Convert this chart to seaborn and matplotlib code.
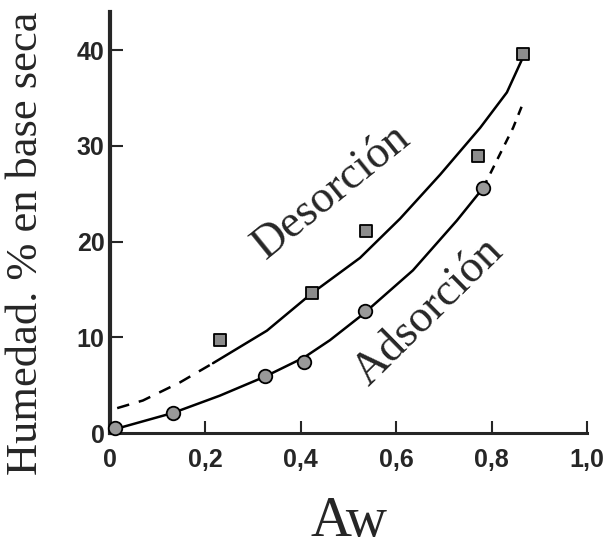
import matplotlib
matplotlib.use('Agg')
import matplotlib.pyplot as plt
import seaborn as sns

sns.set_style('ticks')
plt.rcParams['font.family'] = ['Liberation Serif', 'DejaVu Serif']

# points
des_aw = [0.231, 0.423, 0.537, 0.771, 0.866]
des_hum = [9.7, 14.6, 21.1, 29.0, 39.6]
ads_aw = [0.010, 0.132, 0.325, 0.407, 0.535, 0.782]
ads_hum = [0.5, 2.1, 6.0, 7.4, 12.7, 25.6]

# drawn curves (solid and dashed stretches)
des_dash_aw = [0.015, 0.069, 0.147, 0.216]
des_dash_hum = [2.6, 3.4, 5.3, 7.3]
des_line_aw = [0.216, 0.329, 0.423, 0.524, 0.608, 0.692, 0.776, 0.832, 0.866]
des_line_hum = [7.3, 10.7, 14.6, 18.3, 22.4, 27.0, 31.9, 35.6, 39.3]
ads_line_aw = [0.010, 0.132, 0.230, 0.325, 0.407, 0.461, 0.530, 0.635, 0.727, 0.782]
ads_line_hum = [0.4, 2.1, 3.9, 5.9, 7.9, 9.7, 12.4, 17.0, 22.2, 25.6]
ads_dash_aw = [0.782, 0.803, 0.845, 0.866]
ads_dash_hum = [25.6, 27.7, 31.9, 34.5]

xticks = [0, 0.2, 0.4, 0.6, 0.8, 1.0]
xticklabels = ['0', '0,2', '0,4', '0,6', '0,8', '1,0']
yticks = [0, 10, 20, 30, 40]

fig = plt.figure(figsize=(6.16, 5.5), dpi=100)
ax = fig.add_axes([0.1786, 0.2127, 0.7744, 0.7655])

sns.lineplot(x=des_line_aw, y=des_line_hum, sort=False, estimator=None,
             color='black', lw=1.8, ax=ax)
sns.lineplot(x=des_dash_aw, y=des_dash_hum, sort=False, estimator=None,
             color='black', lw=1.8, linestyle=(0, (5, 4)), ax=ax)
sns.lineplot(x=ads_line_aw, y=ads_line_hum, sort=False, estimator=None,
             color='black', lw=1.8, ax=ax)
sns.lineplot(x=ads_dash_aw, y=ads_dash_hum, sort=False, estimator=None,
             color='black', lw=1.8, linestyle=(0, (3.5, 3)), ax=ax)

sns.scatterplot(x=des_aw, y=des_hum, marker='s', s=80, color='0.55',
                edgecolor='black', linewidth=1.3, zorder=4, clip_on=False, ax=ax)
sns.scatterplot(x=ads_aw, y=ads_hum, marker='o', s=95, color='0.6',
                edgecolor='black', linewidth=1.3, zorder=4, clip_on=False, ax=ax)

ax.set_xlim(0, 1.0)
ax.set_ylim(0, 44)
sns.despine(ax=ax)
ax.spines['left'].set_linewidth(3)
ax.spines['bottom'].set_linewidth(2.2)

ax.set_xticks(xticks)
ax.set_xticklabels(xticklabels)
ax.set_yticks(yticks)
ax.tick_params(direction='in', length=9, width=1.5, labelsize=18)
ax.tick_params(axis='x', pad=11)
ax.tick_params(axis='y', pad=4)
for lab in ax.get_xticklabels() + ax.get_yticklabels():
    lab.set_fontfamily('Liberation Sans')
    lab.set_fontweight('bold')

ax.set_xlabel('Aw', fontsize=41)
ax.xaxis.set_label_coords(0.5, -0.15)
ax.set_ylabel('Humedad. % en base seca', fontsize=32)
ax.yaxis.set_label_coords(-0.135, 0.45)

ax.text(0.465, 25.2, 'Desorción', fontsize=33, rotation=39,
        ha='center', va='center', rotation_mode='anchor')
ax.text(0.669, 12.6, 'Adsorción', fontsize=33, rotation=44.5,
        ha='center', va='center', rotation_mode='anchor')

fig.savefig('out.png', dpi=100)
